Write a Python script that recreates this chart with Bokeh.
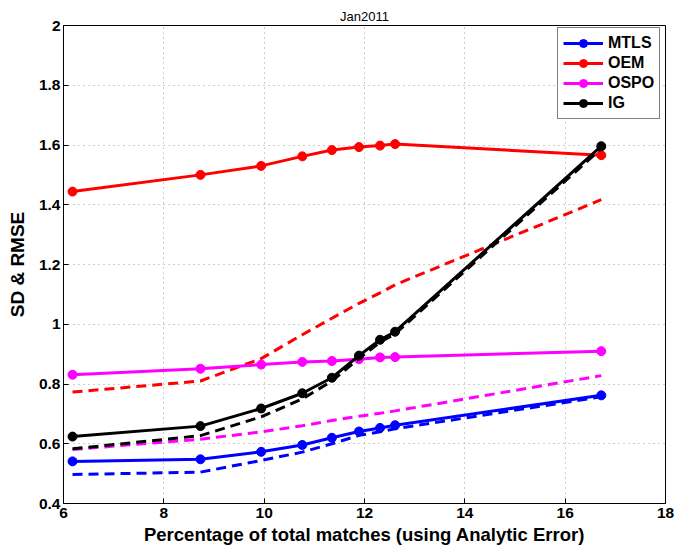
from bokeh.plotting import figure
from bokeh.models import Legend, LegendItem, FixedTicker, Range1d
from bokeh.embed import file_html
from bokeh.resources import INLINE

title_text = "Jan2011"
x_vals = [6.18, 8.73, 9.94, 10.76, 11.35, 11.89, 12.31, 12.61, 16.72]

mtls_solid = [0.541, 0.548, 0.573, 0.596, 0.620, 0.641, 0.653, 0.662, 0.762]
mtls_dash = [0.497, 0.505, 0.544, 0.572, 0.600, 0.628, 0.640, 0.650, 0.757]
oem_solid = [1.444, 1.500, 1.530, 1.562, 1.583, 1.593, 1.598, 1.603, 1.566]
oem_dash = [0.773, 0.810, 0.885, 0.965, 1.020, 1.070, 1.105, 1.132, 1.417]
ospo_solid = [0.831, 0.851, 0.865, 0.874, 0.877, 0.883, 0.889, 0.890, 0.910]
ospo_dash = [0.581, 0.615, 0.640, 0.660, 0.678, 0.692, 0.702, 0.710, 0.828]
ig_solid = [0.624, 0.659, 0.718, 0.769, 0.821, 0.895, 0.948, 0.975, 1.596]
ig_dash = [0.583, 0.627, 0.690, 0.750, 0.810, 0.885, 0.940, 0.968, 1.588]

series_names = ["MTLS", "OEM", "OSPO", "IG"]
series_colors = ["#0000ff", "#ff0000", "#ff00ff", "#000000"]

x_ticks = [6, 8, 10, 12, 14, 16, 18]
y_ticks = [0.4, 0.6, 0.8, 1.0, 1.2, 1.4, 1.6, 1.8, 2.0]

FONT = "Liberation Sans"

p = figure(width=690, height=548, output_backend="svg", toolbar_location=None,
           x_range=Range1d(6, 18), y_range=Range1d(0.4, 2.0),
           min_border_left=63, min_border_right=25, min_border_top=25,
           min_border_bottom=45, title=title_text)

p.title.align = "center"
p.title.text_font = FONT
p.title.text_font_style = "normal"
p.title.text_font_size = "13px"
p.title.text_color = "black"
p.title.standoff = 4

p.outline_line_color = "black"
p.outline_line_width = 1
p.background_fill_color = "white"

for ax, ticks in ((p.xaxis[0], x_ticks), (p.yaxis[0], y_ticks)):
    ax.ticker = FixedTicker(ticks=ticks)
    ax.major_tick_in = 5
    ax.major_tick_out = 0
    ax.major_tick_line_color = "black"
    ax.minor_tick_line_color = None
    ax.axis_line_color = "black"
    ax.major_label_text_font = FONT
    ax.major_label_text_font_style = "bold"
    ax.major_label_text_font_size = "15.5px"
    ax.major_label_text_color = "black"
    ax.axis_label_text_font = FONT
    ax.axis_label_text_font_style = "bold"
    ax.axis_label_text_color = "black"

p.xaxis[0].axis_label_text_font_size = "18.5px"
p.yaxis[0].axis_label_text_font_size = "19px"
p.xaxis[0].major_label_overrides = {6: "6", 8: "8", 10: "10", 12: "12", 14: "14", 16: "16", 18: "18"}
p.yaxis[0].major_label_overrides = {0.4: "0.4", 0.6: "0.6", 0.8: "0.8", 1.0: "1", 1.2: "1.2",
                                    1.4: "1.4", 1.6: "1.6", 1.8: "1.8", 2.0: "2"}
p.xaxis[0].axis_label = "Percentage of total matches (using Analytic Error)"
p.yaxis[0].axis_label = "SD & RMSE"
p.xaxis[0].axis_label_standoff = 3
p.yaxis[0].axis_label_standoff = 8
p.xaxis[0].major_label_standoff = 4
p.yaxis[0].major_label_standoff = 3

p.xgrid.ticker = FixedTicker(ticks=x_ticks)
p.ygrid.ticker = FixedTicker(ticks=y_ticks)
p.grid.grid_line_color = "#9a9a9a"
p.grid.grid_line_dash = "1 4"
p.grid.grid_line_width = 1

solid_sets = [mtls_solid, oem_solid, ospo_solid, ig_solid]
dash_sets = [mtls_dash, oem_dash, ospo_dash, ig_dash]

items = []
for name, color, ys, yd in zip(series_names, series_colors, solid_sets, dash_sets):
    p.line(x_vals, yd, line_color=color, line_width=3, line_dash="10 6")
    ln = p.line(x_vals, ys, line_color=color, line_width=3)
    sc = p.scatter(x_vals, ys, size=9, fill_color=color, line_color=color)
    items.append(LegendItem(label=name, renderers=[ln, sc]))

legend = Legend(items=items, location=(494, 384))
legend.border_line_color = "black"
legend.border_line_width = 1
legend.background_fill_alpha = 1
legend.label_text_font = FONT
legend.label_text_font_style = "bold"
legend.label_text_font_size = "16px"
legend.label_text_color = "black"
legend.glyph_width = 40
legend.glyph_height = 20
legend.label_height = 20
legend.spacing = 0
legend.padding = 5
legend.margin = 0
legend.label_standoff = 5
p.add_layout(legend, "center")

open("out.html", "w").write(file_html(p, INLINE))
